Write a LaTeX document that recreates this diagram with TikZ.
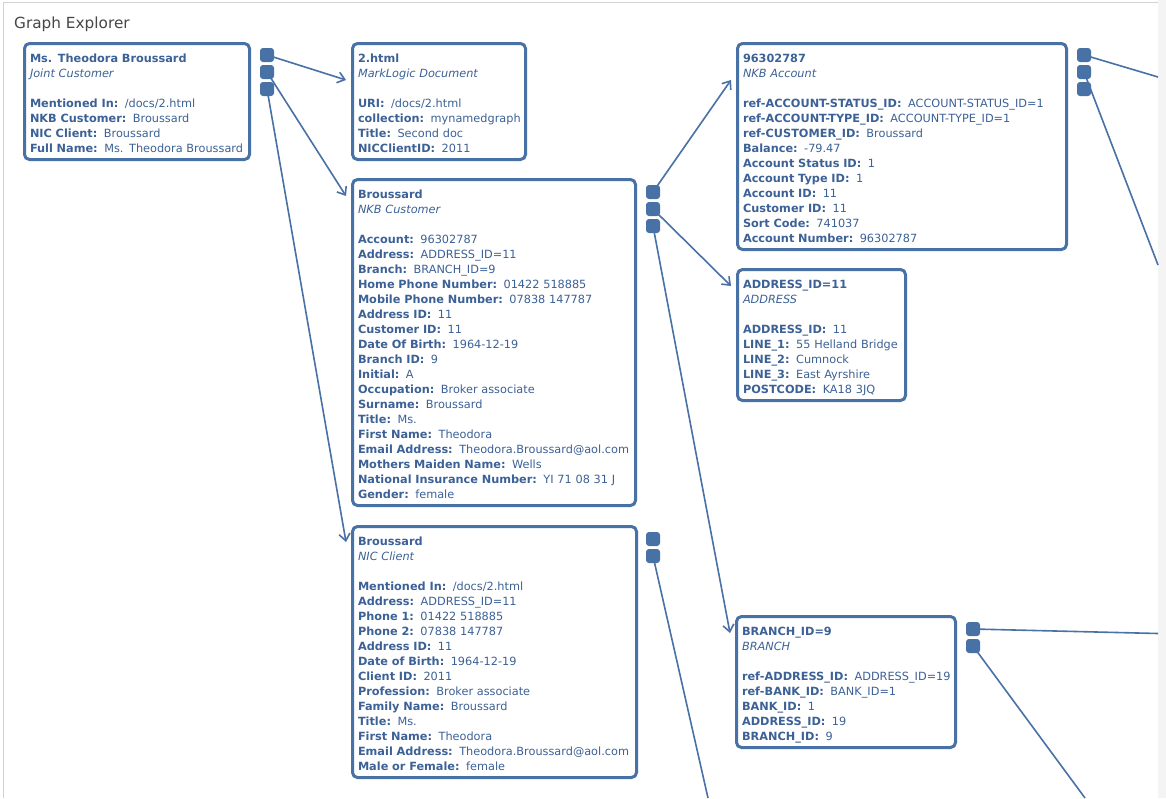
\documentclass[tikz,border=0pt]{standalone}
\usepackage{fontspec}
\setmainfont{DejaVu Sans}
\usetikzlibrary{arrows.meta,backgrounds}

\definecolor{gxblue}{RGB}{72,113,166}
\definecolor{gxtext}{RGB}{60,97,150}
\definecolor{gxframe}{RGB}{210,210,210}
\definecolor{gxstrip}{RGB}{244,244,244}
\definecolor{gxtitle}{RGB}{70,70,70}

\newcommand{\kv}[2]{\mbox{\textbf{#1:}\hspace{6.5pt}#2}}
\newcommand{\head}[2]{\rule{0pt}{15.2pt}\mbox{\textbf{#1}}\\\mbox{\textit{#2}}\\[15pt]}
\newcommand{\tail}{\rule[-3pt]{0pt}{3pt}}

\begin{document}
\begin{tikzpicture}[x=1pt, y=-1pt]

    % Define styles
    \tikzstyle{card} = [
        draw=gxblue, line width=3pt, rounded corners=5pt, fill=white,
        anchor=north west, inner xsep=5.5pt, inner ysep=0pt,
        align=left, text=gxtext, font=\fontsize{11.3}{15}\selectfont
    ]
    \tikzstyle{port} = [fill=gxblue, rounded corners=3pt, minimum size=14pt, inner sep=0pt]
    \tikzstyle{link} = [gxblue, line width=1.6pt, -{Straight Barb[length=7pt,width=11pt]}]
    \tikzstyle{stub} = [gxblue, line width=1.6pt]

    \useasboundingbox (0,0) rectangle (1166,798);

    % Panel
    \begin{scope}[on background layer]
        \fill[white] (0,0) rectangle (1166,798);
        \fill[gxstrip] (1158,0) rectangle (1166,798);
        \draw[gxframe, line width=1pt] (3.5,798) |- (1158,2.5);
    \end{scope}
    \node[anchor=base west, inner sep=0pt, text=gxtitle, font=\fontsize{15.3}{18}\selectfont] (title) at (14,28.3) {Graph Explorer};

    % Nodes
    \node[card, text width=214pt, minimum height=116pt] (joint) at (23,42) {
        \head{Ms. Theodora Broussard}{Joint Customer}
        \kv{Mentioned In}{/docs/2.html}\\
        \kv{NKB Customer}{Broussard}\\
        \kv{NIC Client}{Broussard}\\
        \kv{Full Name}{Ms. Theodora Broussard}\tail};
    \node[card, text width=162pt, minimum height=116pt] (doc) at (351,42) {
        \head{2.html}{MarkLogic Document}
        \kv{URI}{/docs/2.html}\\
        \kv{collection}{mynamedgraph}\\
        \kv{Title}{Second doc}\\
        \kv{NICClientID}{2011}\tail};
    \node[card, text width=272pt, minimum height=326pt] (nkbcust) at (351,178) {
        \head{Broussard}{NKB Customer}
        \kv{Account}{96302787}\\
        \kv{Address}{ADDRESS\_ID=11}\\
        \kv{Branch}{BRANCH\_ID=9}\\
        \kv{Home Phone Number}{01422 518885}\\
        \kv{Mobile Phone Number}{07838 147787}\\
        \kv{Address ID}{11}\\
        \kv{Customer ID}{11}\\
        \kv{Date Of Birth}{1964-12-19}\\
        \kv{Branch ID}{9}\\
        \kv{Initial}{A}\\
        \kv{Occupation}{Broker associate}\\
        \kv{Surname}{Broussard}\\
        \kv{Title}{Ms.}\\
        \kv{First Name}{Theodora}\\
        \kv{Email Address}{Theodora.Broussard@aol.com}\\
        \kv{Mothers Maiden Name}{Wells}\\
        \kv{National Insurance Number}{YI 71 08 31 J}\\
        \kv{Gender}{female}\tail};
    \node[card, text width=318pt, minimum height=206pt] (account) at (736,42) {
        \head{96302787}{NKB Account}
        \kv{ref-ACCOUNT-STATUS\_ID}{ACCOUNT-STATUS\_ID=1}\\
        \kv{ref-ACCOUNT-TYPE\_ID}{ACCOUNT-TYPE\_ID=1}\\
        \kv{ref-CUSTOMER\_ID}{Broussard}\\
        \kv{Balance}{-79.47}\\
        \kv{Account Status ID}{1}\\
        \kv{Account Type ID}{1}\\
        \kv{Account ID}{11}\\
        \kv{Customer ID}{11}\\
        \kv{Sort Code}{741037}\\
        \kv{Account Number}{96302787}\tail};
    \node[card, text width=157pt, minimum height=131pt] (address) at (736,268) {
        \head{ADDRESS\_ID=11}{ADDRESS}
        \kv{ADDRESS\_ID}{11}\\
        \kv{LINE\_1}{55 Helland Bridge}\\
        \kv{LINE\_2}{Cumnock}\\
        \kv{LINE\_3}{East Ayrshire}\\
        \kv{POSTCODE}{KA18 3JQ}\tail};
    \node[card, text width=273pt, minimum height=251pt] (nicclient) at (351,525) {
        \head{Broussard}{NIC Client}
        \kv{Mentioned In}{/docs/2.html}\\
        \kv{Address}{ADDRESS\_ID=11}\\
        \kv{Phone 1}{01422 518885}\\
        \kv{Phone 2}{07838 147787}\\
        \kv{Address ID}{11}\\
        \kv{Date of Birth}{1964-12-19}\\
        \kv{Client ID}{2011}\\
        \kv{Profession}{Broker associate}\\
        \kv{Family Name}{Broussard}\\
        \kv{Title}{Ms.}\\
        \kv{First Name}{Theodora}\\
        \kv{Email Address}{Theodora.Broussard@aol.com}\\
        \kv{Male or Female}{female}\tail};
    \node[card, text width=208pt, minimum height=131pt] (branch) at (735,615) {
        \head{BRANCH\_ID=9}{BRANCH}
        \kv{ref-ADDRESS\_ID}{ADDRESS\_ID=19}\\
        \kv{ref-BANK\_ID}{BANK\_ID=1}\\
        \kv{BANK\_ID}{1}\\
        \kv{ADDRESS\_ID}{19}\\
        \kv{BRANCH\_ID}{9}\tail};

    % Ports
    \node[port] (joint1) at ([xshift=16pt,yshift=-13pt]joint.north east) {};
    \node[port] (joint2) at ([yshift=-17pt]joint1.center) {};
    \node[port] (joint3) at ([yshift=-17pt]joint2.center) {};
    \node[port] (nkbcust1) at ([xshift=16pt,yshift=-14pt]nkbcust.north east) {};
    \node[port] (nkbcust2) at ([yshift=-17pt]nkbcust1.center) {};
    \node[port] (nkbcust3) at ([yshift=-17pt]nkbcust2.center) {};
    \node[port] (account1) at ([xshift=16pt,yshift=-13pt]account.north east) {};
    \node[port] (account2) at ([yshift=-17pt]account1.center) {};
    \node[port] (account3) at ([yshift=-17pt]account2.center) {};
    \node[port] (nicclient1) at ([xshift=15pt,yshift=-14pt]nicclient.north east) {};
    \node[port] (nicclient2) at ([yshift=-17pt]nicclient1.center) {};
    \node[port] (branch1) at ([xshift=16pt,yshift=-14pt]branch.north east) {};
    \node[port] (branch2) at ([yshift=-17pt]branch1.center) {};

    % Free ends at the panel edge
    \coordinate (out1) at (1158,77);
    \coordinate (out2) at (1158,265);
    \coordinate (out3) at (1158,633.5);
    \coordinate (out4) at (1085,798);
    \coordinate (out5) at (708,798);

    % Arrows
    \begin{scope}[on background layer]
        \draw[link] (joint1.center) -- ([xshift=-5pt,yshift=-38pt]doc.north west);
        \draw[link] (joint2.center) -- ([xshift=-5pt,yshift=-18pt]nkbcust.north west);
        \draw[link] (joint3.center) -- ([xshift=-5pt,yshift=-17pt]nicclient.north west);
        \draw[link] (nkbcust1.center) -- ([xshift=-5pt,yshift=-38pt]account.north west);
        \draw[link] (nkbcust2.center) -- ([xshift=-5pt,yshift=-18pt]address.north west);
        \draw[link] (nkbcust3.center) -- ([xshift=-5pt,yshift=-18pt]branch.north west);
        \draw[stub] (account1.center) -- (out1);
        \draw[stub] (account2.center) -- (out2);
        \draw[stub] (branch1.center) -- (out3);
        \draw[stub] (branch2.center) -- (out4);
        \draw[stub] (nicclient2.center) -- (out5);
    \end{scope}

\end{tikzpicture}
\end{document}
